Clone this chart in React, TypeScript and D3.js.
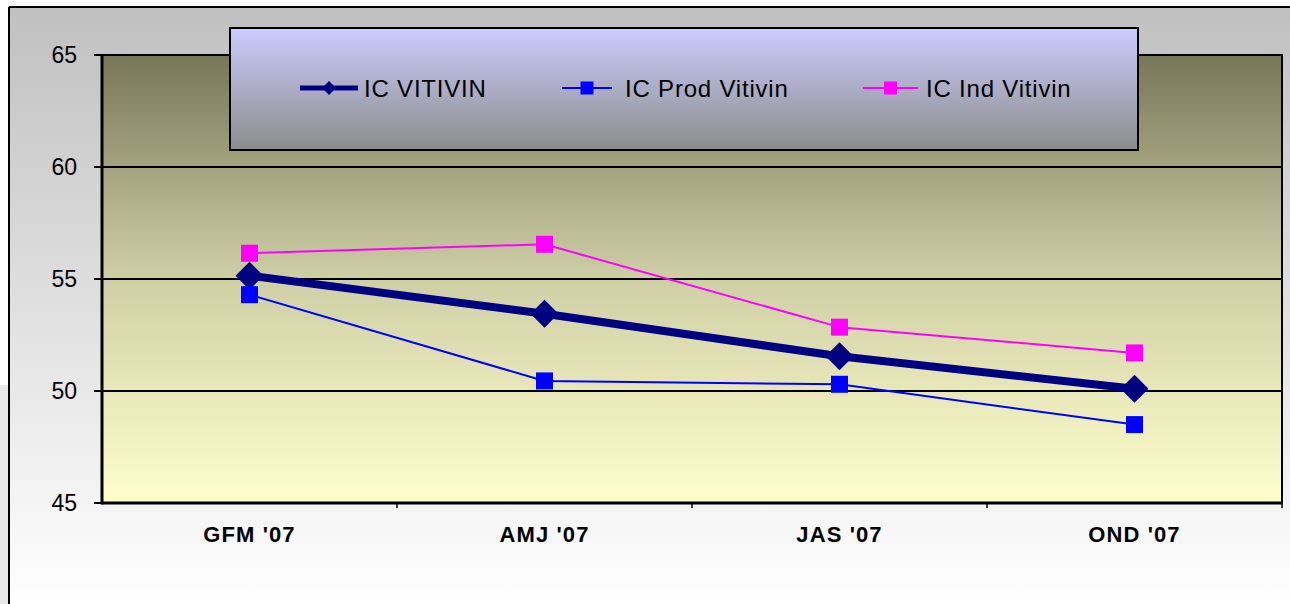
import React from "react";
import * as d3 from "d3";

const categories = ["GFM '07", "AMJ '07", "JAS '07", "OND '07"];
const icVitivin = [55.15, 53.45, 51.55, 50.1];
const icProd = [54.3, 50.45, 50.3, 48.5];
const icInd = [56.15, 56.55, 52.85, 51.7];
const yTicks = [45, 50, 55, 60, 65];

const W = 1290;
const H = 604;
const plot = { left: 102, top: 55, right: 1282, bottom: 503 };

export default function App() {
  const x = d3
    .scaleBand<string>()
    .domain(categories)
    .range([plot.left, plot.right]);
  const y = d3.scaleLinear().domain([45, 65]).range([plot.bottom, plot.top]);
  const cx = (c: string) => (x(c) as number) + x.bandwidth() / 2;
  const line = d3
    .line<number>()
    .x((_, i) => cx(categories[i]))
    .y((d) => y(d));

  const series = [
    { name: "IC VITIVIN", values: icVitivin, color: "#000080", width: 8, marker: "diamond" },
    { name: "IC Prod Vitivin", values: icProd, color: "#0000ff", width: 2, marker: "square" },
    { name: "IC Ind Vitivin", values: icInd, color: "#ff00ff", width: 2, marker: "square" },
  ];

  const marker = (kind: string, px: number, py: number, color: string, s: number, key: any) =>
    kind === "diamond" ? (
      <path key={key} d={`M${px},${py - s}L${px + s},${py}L${px},${py + s}L${px - s},${py}Z`} fill={color} />
    ) : (
      <rect key={key} x={px - s} y={py - s} width={2 * s} height={2 * s} fill={color} />
    );

  const legendItems = [
    { lx: 300, lx2: 358, tx: 364 },
    { lx: 562, lx2: 612, tx: 625 },
    { lx: 863, lx2: 918, tx: 926 },
  ];

  return (
    <svg
      width={W}
      height={H}
      style={{ position: "absolute", left: 0, top: 0, fontFamily: "Liberation Sans, Arial, sans-serif" }}
    >
      <defs>
        <linearGradient id="outerG" x1="0" y1="0" x2="0" y2="1">
          <stop offset="0" stopColor="#c0c0c0" />
          <stop offset="1" stopColor="#ffffff" />
        </linearGradient>
        <linearGradient id="plotG" x1="0" y1="0" x2="0" y2="1">
          <stop offset="0" stopColor="#777758" />
          <stop offset="0.5" stopColor="#cfcfa6" />
          <stop offset="1" stopColor="#ffffcc" />
        </linearGradient>
        <linearGradient id="legG" x1="0" y1="0" x2="0" y2="1">
          <stop offset="0" stopColor="#ccccff" />
          <stop offset="1" stopColor="#8c8c8c" />
        </linearGradient>
      </defs>
      <rect x={0} y={0} width={W} height={H} fill="#ffffff" />
      <rect x={0} y={385} width={9} height={H - 385} fill="#e8e8e8" />
      <rect x={9} y={7} width={W - 9} height={H - 7} fill="url(#outerG)" />
      <line x1={9} x2={W} y1={7} y2={7} stroke="#000" strokeWidth={2} />
      <line x1={9} x2={9} y1={7} y2={H} stroke="#000" strokeWidth={2} />

      <rect
        x={plot.left}
        y={plot.top}
        width={plot.right - plot.left}
        height={plot.bottom - plot.top}
        fill="url(#plotG)"
        stroke="#000"
        strokeWidth={2}
      />
      {yTicks.slice(1, -1).map((t) => (
        <line key={t} x1={plot.left} x2={plot.right} y1={y(t)} y2={y(t)} stroke="#000" strokeWidth={2} />
      ))}
      <line x1={plot.left} x2={plot.left} y1={plot.top} y2={plot.bottom + 1.5} stroke="#000" strokeWidth={3} />
      <line x1={plot.left} x2={plot.right + 1} y1={plot.bottom} y2={plot.bottom} stroke="#000" strokeWidth={3} />
      {yTicks.map((t) => (
        <g key={t}>
          <line x1={plot.left - 8} x2={plot.left} y1={y(t)} y2={y(t)} stroke="#000" strokeWidth={2} />
          <text x={77} y={y(t)} dy="0.36em" textAnchor="end" fontSize={23} fill="#000">
            {t}
          </text>
        </g>
      ))}
      {categories.map((c, i) => (
        <g key={c}>
          <line
            x1={(x(c) as number) + x.bandwidth()}
            x2={(x(c) as number) + x.bandwidth()}
            y1={plot.bottom}
            y2={plot.bottom + 5}
            stroke="#000"
            strokeWidth={1.5}
          />
          <text
            x={cx(c)}
            y={plot.bottom + 39}
            textAnchor="middle"
            fontSize={22}
            fontWeight="bold"
            letterSpacing={1.1}
            fill="#000"
          >
            {c}
          </text>
        </g>
      ))}

      {series.map((s) => (
        <g key={s.name}>
          <path d={line(s.values) as string} fill="none" stroke={s.color} strokeWidth={s.width} strokeLinejoin="round" />
          {s.values.map((v, i) =>
            marker(s.marker, cx(categories[i]), y(v), s.color, s.marker === "diamond" ? 14 : 8.5, i)
          )}
        </g>
      ))}

      <rect x={230} y={28} width={908} height={122} fill="url(#legG)" stroke="#000" strokeWidth={2} />
      {series.map((s, i) => {
        const it = legendItems[i];
        const ly = 88;
        return (
          <g key={s.name}>
            <line x1={it.lx} x2={it.lx2} y1={ly} y2={ly} stroke={s.color} strokeWidth={s.width === 8 ? 5 : 2} />
            {marker(s.marker, (it.lx + it.lx2) / 2, ly, s.color, s.marker === "diamond" ? 7 : 6.5, "m")}
            <text x={it.tx} y={ly} dy="0.36em" fontSize={24} letterSpacing={0.8} fill="#000">
              {s.name}
            </text>
          </g>
        );
      })}
    </svg>
  );
}
